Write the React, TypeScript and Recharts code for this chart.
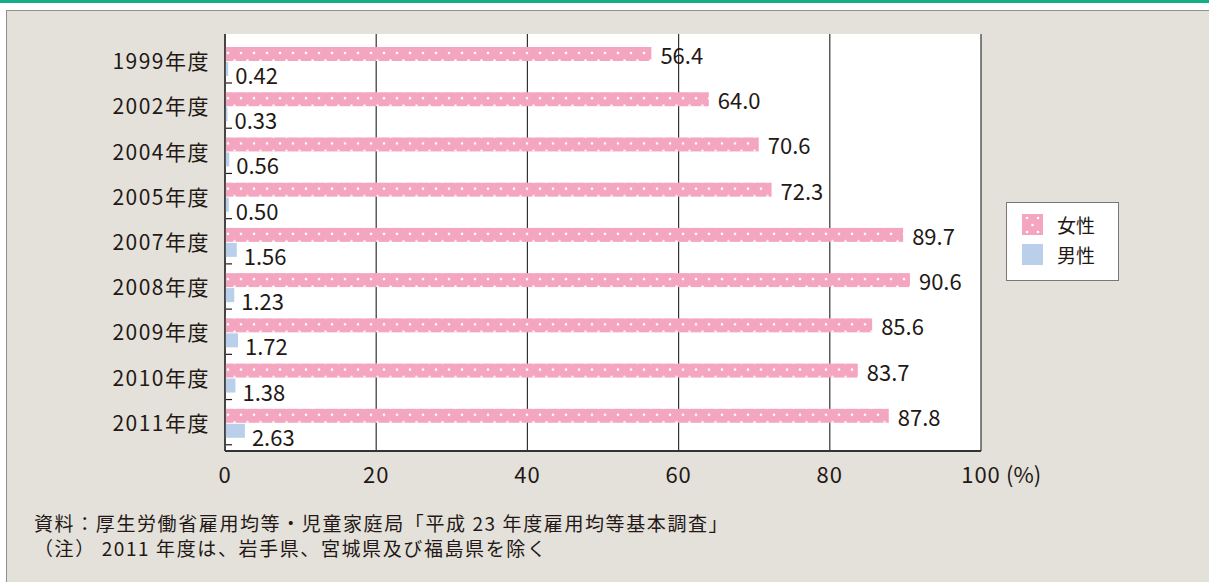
import { BarChart, Bar, XAxis, YAxis, CartesianGrid, LabelList } from 'recharts';

const years = ['1999年度', '2002年度', '2004年度', '2005年度', '2007年度', '2008年度', '2009年度', '2010年度', '2011年度'];
const female = [56.4, 64.0, 70.6, 72.3, 89.7, 90.6, 85.6, 83.7, 87.8];
const male = [0.42, 0.33, 0.56, 0.5, 1.56, 1.23, 1.72, 1.38, 2.63];
const xTicks = [0, 20, 40, 60, 80, 100];
const seriesNames = ['女性', '男性'];
const notes = [
  '資料：厚生労働省雇用均等・児童家庭局「平成 23 年度雇用均等基本調査」',
  '（注） 2011 年度は、岩手県、宮城県及び福島県を除く',
];

const data = years.map((year, i) => ({ year, female: female[i], male: male[i] }));

const FONT = "'Noto Sans CJK JP', 'Noto Sans', sans-serif";
const TEXT = '#231815';
const PINK = '#f4a5c0';
const BLUE = '#b9cfea';

const XTick = (props: any) => {
  const { x, y, payload } = props;
  return (
    <g>
      <text x={x} y={y} dy="0.71em" textAnchor="middle" fill={TEXT} fontSize={22} letterSpacing={1} fontFamily={FONT}>
        {payload.value}
      </text>
      {payload.value === 100 && (
        <text x={x + 25} y={y} dy="0.71em" textAnchor="start" fill={TEXT} fontSize={22} fontFamily={FONT}>
          (%)
        </text>
      )}
    </g>
  );
};

const DotBar = (props: any) => {
  const { x, y, width, height } = props;
  if (!width) return null;
  return (
    <g transform={`translate(${x},${y})`}>
      <rect width={width} height={height} fill="url(#dots)" />
    </g>
  );
};

const FemaleLabel = (props: any) => {
  const vb = props.viewBox ?? props;
  const { x, y, width, height } = vb;
  return (
    <text x={x + width + 9} y={y + height / 2} dominantBaseline="central" fill={TEXT} fontSize={22} fontFamily={FONT}>
      {Number(props.value).toFixed(1)}
    </text>
  );
};

const MaleLabel = (props: any) => {
  const vb = props.viewBox ?? props;
  const { x, y, width, height } = vb;
  return (
    <g>
      <line x1={x + 1} x2={x + 7} y1={y + height + 7} y2={y + height + 7} stroke={TEXT} strokeWidth={1.2} />
      <text x={x + width + 7} y={y + height / 2 + 5} dominantBaseline="central" fill={TEXT} fontSize={22} fontFamily={FONT}>
        {Number(props.value).toFixed(2)}
      </text>
    </g>
  );
};

export default function App() {
  return (
    <div style={{ position: 'absolute', left: 0, top: 0, width: 1209, height: 582, background: '#fff', overflow: 'hidden', fontFamily: FONT }}>
      <div style={{ position: 'absolute', left: 0, top: 0, width: 1209, height: 3, background: '#13ad88' }} />
      <div
        style={{
          position: 'absolute',
          left: 6,
          top: 10,
          width: 1210,
          height: 580,
          background: '#e4e1db',
          borderLeft: '1px solid #8f8f8f',
          borderTop: '1px solid #8f8f8f',
        }}
      />
      <div style={{ position: 'absolute', left: 0, top: 0 }}>
        <BarChart
          layout="vertical"
          width={1209}
          height={582}
          data={data}
          margin={{ top: 34, right: 228, bottom: 91, left: 0 }}
          barSize={14}
          barGap={1}
        >
          <defs>
            <pattern id="dots" patternUnits="userSpaceOnUse" width={13} height={14}>
              <rect x={0} y={0} width={13} height={14} fill={PINK} />
              <circle cx={3} cy={6} r={1.3} fill="#fff" />
              <circle cx={9.5} cy={13.6} r={1.3} fill="#fff" />
            </pattern>
          </defs>
          <CartesianGrid horizontal={false} fill="#fff" stroke="#333" strokeWidth={1.2} />
          <XAxis
            type="number"
            domain={[0, 100]}
            ticks={xTicks}
            tickSize={0}
            tickMargin={16}
            height={40}
            axisLine={{ stroke: '#333', strokeWidth: 2 }}
            tick={<XTick />}
          />
          <XAxis xAxisId="top" orientation="top" type="number" domain={[0, 100]} tick={false} tickLine={false} height={0} axisLine={{ stroke: '#333', strokeWidth: 1.5 }} />
          <YAxis
            type="category"
            dataKey="year"
            width={225}
            tickSize={0}
            tickMargin={15}
            padding={{ top: 5, bottom: 5 }}
            axisLine={{ stroke: '#333', strokeWidth: 1.5 }}
            tick={{ fill: TEXT, fontSize: 21, letterSpacing: 1.5, fontFamily: FONT }}
          />
          <YAxis yAxisId="right" orientation="right" type="category" dataKey="year" tick={false} tickLine={false} width={0} axisLine={{ stroke: '#333', strokeWidth: 2 }} />
          <Bar dataKey="female" name={seriesNames[0]} fill={PINK} shape={<DotBar />} isAnimationActive={false}>
            <LabelList dataKey="female" content={<FemaleLabel />} />
          </Bar>
          <Bar dataKey="male" name={seriesNames[1]} fill={BLUE} isAnimationActive={false}>
            <LabelList dataKey="male" content={<MaleLabel />} />
          </Bar>
        </BarChart>
      </div>
      <div
        style={{
          position: 'absolute',
          left: 1006,
          top: 202,
          width: 113,
          height: 79,
          background: '#fff',
          border: '1px solid #777',
          padding: '6px 0 0 15px',
          boxSizing: 'border-box',
        }}
      >
        {seriesNames.map((name, i) => (
          <div key={name} style={{ display: 'flex', alignItems: 'center', height: 30, fontSize: 19, color: TEXT }}>
            <svg width={21} height={21} style={{ marginRight: 14 }}>
              {i === 0 ? (
                <g>
                  <rect width={21} height={21} fill={PINK} />
                  <circle cx={5} cy={4} r={1.3} fill="#fff" />
                  <circle cx={16} cy={4} r={1.3} fill="#fff" />
                  <circle cx={10.5} cy={11} r={1.3} fill="#fff" />
                  <circle cx={5} cy={18} r={1.3} fill="#fff" />
                  <circle cx={16} cy={18} r={1.3} fill="#fff" />
                </g>
              ) : (
                <rect width={21} height={21} fill={BLUE} />
              )}
            </svg>
            {name}
          </div>
        ))}
      </div>
      <div style={{ position: 'absolute', left: 34, top: 510, fontSize: 19, letterSpacing: 1.6, lineHeight: '25px', color: TEXT, whiteSpace: 'pre' }}>
        {notes.map((n) => (
          <div key={n}>{n}</div>
        ))}
      </div>
    </div>
  );
}
